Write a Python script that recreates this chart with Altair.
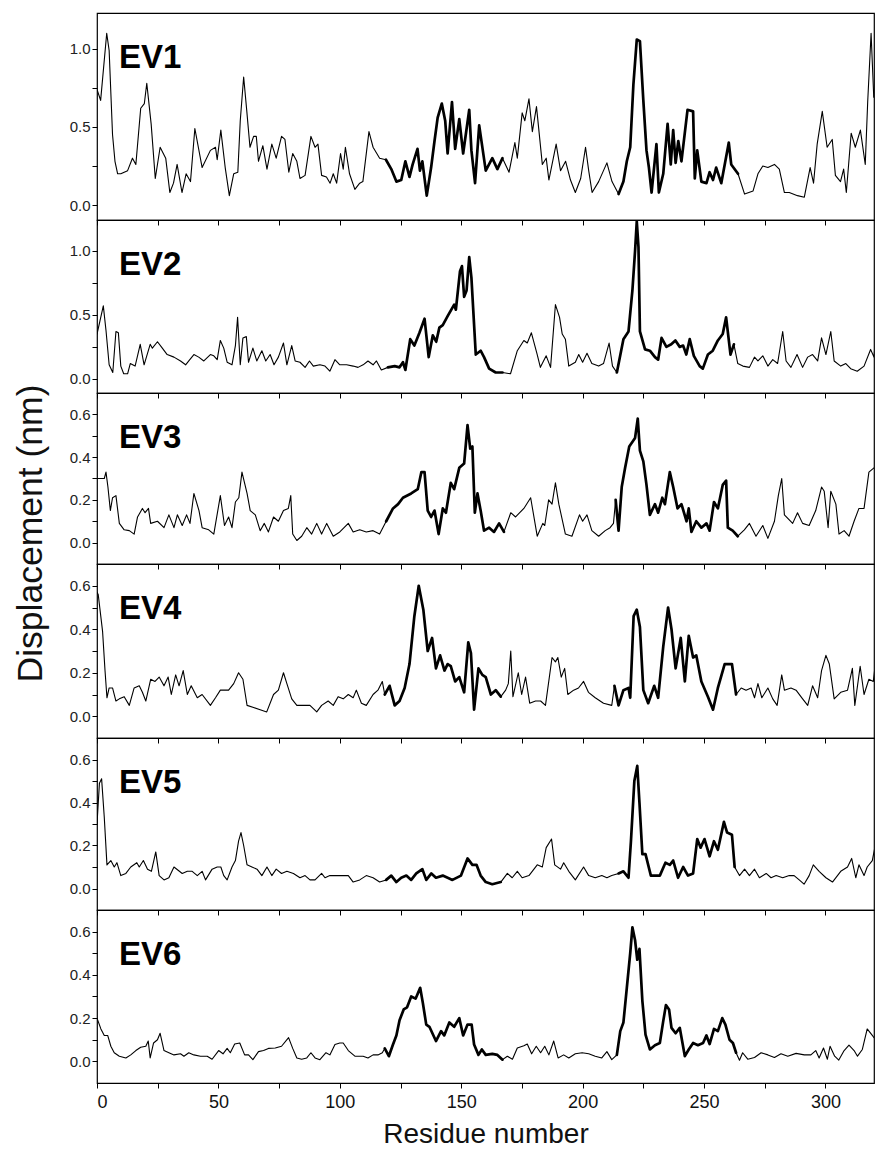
import altair as alt
import pandas as pd

FONT = "Liberation Sans"

EV1 = [(0,0.74),(1.5,0.67),(4,1.10),(5,0.99),(6.4,0.45),(7.4,0.28),(8.5,0.20),(9.8,0.20),(12.6,0.22),(14.6,0.30),
(16,0.26),(18,0.62),(19.5,0.65),(20.5,0.78),(22.3,0.52),(24,0.17),(26,0.37),(28.3,0.30),(30,0.08),(31.5,0.14),
(33,0.26),(35,0.08),(36.7,0.20),(38.5,0.15),(40.3,0.49),(43.3,0.24),(46.7,0.35),(48.8,0.37),(49.5,0.29),(51,0.48),
(52.8,0.24),(54.5,0.06),(56.3,0.20),(58,0.21),(59,0.54),(60.4,0.82),(61.7,0.60),(63,0.37),(64.5,0.44),(65.6,0.44),
(66.5,0.28),(68.3,0.38),(70,0.23),(72,0.39),(73.8,0.30),(76,0.44),(77.4,0.42),(79,0.21),(80.6,0.33),(82.3,0.28),
(83.6,0.17),(85.7,0.19),(88.1,0.44),(89.8,0.37),(91,0.39),(92.5,0.19),(94.5,0.18),(96,0.14),(97.3,0.20),(98.7,0.14),
(100.3,0.33),(101.4,0.23),(102.3,0.37),(104,0.20),(106.2,0.10),(108.2,0.14),(109.5,0.15),(112,0.47),(113.7,0.37),(116.4,0.30),
(119,0.29),(121.2,0.23),(123.3,0.15),(125.3,0.16),(127,0.28),(128.7,0.18),(130,0.26),(132,0.36),(133,0.22),(134,0.28),
(135.8,0.06),(137.6,0.24),(139,0.41),(140.3,0.56),(142,0.65),(143.4,0.54),(144.4,0.33),(146.2,0.66),(147.5,0.36),(149.2,0.55),
(150.8,0.33),(153.3,0.61),(154.2,0.35),(155.7,0.14),(157.4,0.51),(160.1,0.22),(162.8,0.30),(164.9,0.23),(167,0.30),(169.7,0.21),
(172.1,0.40),(173.1,0.30),(175.1,0.59),(176.2,0.54),(177.9,0.68),(179.3,0.47),(181,0.63),(183.4,0.26),(185,0.30),(186.1,0.16),
(189.1,0.39),(190.9,0.22),(193,0.28),(195,0.16),(197,0.08),(199.2,0.17),(201.2,0.37),(202.5,0.22),(203.9,0.08),(206.6,0.15),
(210,0.27),(212.1,0.15),(214.8,0.07),(216.8,0.15),(218.2,0.28),(219.6,0.37),(220.9,0.77),(222.3,1.06),(223.6,1.05),(225,0.67),
(226.3,0.35),(227.3,0.24),(228.4,0.08),(230.4,0.39),(231.4,0.08),(233.2,0.20),(235,0.52),(236.3,0.26),(237.3,0.48),(238.3,0.27),
(239.4,0.41),(240.7,0.28),(243.2,0.61),(245.5,0.60),(246.2,0.17),(247.2,0.35),(248.9,0.15),(251,0.14),(252.3,0.21),(253.7,0.16),
(255,0.24),(257.1,0.14),(260.2,0.40),(261.2,0.26),(264,0.20),(266.7,0.07),(270.2,0.09),(272.2,0.20),(274.2,0.25),(276.3,0.24),
(279,0.26),(281,0.23),(283.1,0.08),(285.1,0.08),(288.5,0.06),(291.3,0.05),(293.7,0.24),(295.1,0.14),(296.6,0.39),(298.7,0.60),
(300.7,0.37),(302.8,0.42),(304.1,0.19),(306.2,0.15),(307.5,0.23),(308.6,0.08),(310.6,0.46),(312.3,0.37),(314.4,0.48),(316.4,0.26),
(317.4,0.66),(318.8,1.10),(319.9,0.69),(320.9,0.72),(321.9,0.63)]

EV2 = [(0,0.35),(1.2,0.45),(2.6,0.57),(3.7,0.38),(5,0.11),(6.5,0.05),(7.8,0.37),(8.8,0.36),(9.8,0.10),(11,0.04),
(12.6,0.04),(13.7,0.12),(15.7,0.10),(17.8,0.27),(19.4,0.11),(21.9,0.27),(22.8,0.24),(24.9,0.29),(26.9,0.24),(28.9,0.19),
(31.7,0.17),(34.4,0.14),(36.5,0.11),(37.8,0.14),(39.9,0.19),(41.9,0.17),(44,0.14),(46.7,0.19),(48.1,0.18),(49.5,0.15),
(50.8,0.30),(52.2,0.24),(53.6,0.13),(55.6,0.11),(57,0.26),(57.9,0.48),(59,0.11),(60.1,0.32),(61.5,0.33),(62.4,0.13),
(64.2,0.24),(65.8,0.14),(67.9,0.22),(69.5,0.14),(71.3,0.19),(72.9,0.11),(74.7,0.17),(76.8,0.28),(78.2,0.11),(80.2,0.26),
(81.6,0.14),(83.6,0.13),(85.7,0.09),(87.5,0.14),(89.1,0.10),(91.8,0.11),(93.9,0.10),(95.9,0.06),(98,0.15),(100,0.11),
(102.8,0.11),(105.5,0.10),(107.5,0.09),(109.6,0.11),(111.6,0.14),(113.7,0.11),(115.1,0.14),(117.1,0.07),(119.8,0.09),(122.6,0.10),
(124.6,0.09),(126,0.13),(127,0.07),(129,0.31),(130.7,0.26),(132.8,0.36),(134.9,0.47),(136.6,0.17),(138.3,0.34),(139.7,0.29),
(141,0.40),(142.4,0.42),(144.4,0.49),(147.1,0.58),(147.8,0.54),(149.5,0.84),(150.3,0.88),(151.2,0.64),(152.2,0.69),(153.3,0.95),
(154.2,0.79),(156,0.19),(158,0.22),(159.4,0.17),(161.5,0.08),(164.2,0.05),(167,0.05),(170.3,0.04),(173.1,0.22),(175.8,0.30),
(177.2,0.28),(178.9,0.36),(181.3,0.19),(182.6,0.09),(185,0.18),(186.8,0.09),(188.8,0.58),(190.5,0.48),(191.6,0.35),(192.9,0.31),
(194.3,0.10),(197,0.13),(198.4,0.19),(200,0.13),(201.8,0.20),(203.8,0.12),(206.6,0.10),(208.6,0.12),(210.9,0.28),(212.3,0.10),
(214.1,0.05),(216.8,0.31),(218.9,0.37),(220.5,0.69),(221.6,1.00),(222.3,1.23),(223,1.03),(223.6,0.37),(225.7,0.23),(227.7,0.22),
(229.8,0.17),(231.1,0.15),(232.5,0.32),(234.5,0.25),(236.5,0.27),(238.2,0.30),(240,0.25),(241.4,0.26),(242.7,0.19),(244.1,0.31),
(245.8,0.18),(248.2,0.10),(249.5,0.08),(251.6,0.19),(253.6,0.22),(255.7,0.30),(257.7,0.35),(259.1,0.48),(260.9,0.19),(262.3,0.27),
(263.9,0.12),(266,0.10),(268.7,0.09),(270.8,0.17),(272.2,0.14),(274.2,0.18),(276.3,0.10),(278.3,0.15),(280.3,0.12),(282.4,0.37),
(283.8,0.14),(285.8,0.09),(288.3,0.19),(290.6,0.09),(292.7,0.17),(294.7,0.19),(296.8,0.14),(298.4,0.32),(300.2,0.19),(302.2,0.37),
(303.6,0.14),(306.3,0.10),(308.4,0.12),(310.4,0.08),(313.1,0.06),(315.9,0.10),(318.6,0.23),(320,0.17),(321.3,0.48)]

EV3 = [(0,0.30),(1.4,0.30),(3,0.30),(3.7,0.33),(4.5,0.26),(5.5,0.15),(6.4,0.21),(7.8,0.22),(9.2,0.09),(11.2,0.06),
(13.3,0.056),(15.3,0.04),(16.7,0.12),(18.7,0.16),(19.8,0.14),(21.2,0.16),(22.1,0.09),(24.9,0.10),(27.6,0.07),(29.6,0.13),
(31.7,0.07),(33.1,0.13),(35.1,0.08),(36.9,0.13),(38.3,0.09),(39.9,0.23),(42,0.15),(43.3,0.07),(46,0.06),(48.1,0.04),
(50.8,0.22),(52.5,0.08),(54.2,0.12),(55.6,0.07),(57,0.19),(58.4,0.21),(59.7,0.33),(61.8,0.23),(63.1,0.15),(65.2,0.13),
(67.2,0.056),(68.9,0.09),(70.6,0.05),(72.7,0.12),(74.7,0.10),(76.8,0.15),(78.8,0.16),(79.8,0.22),(80.6,0.04),(82.3,0.01),
(84.3,0.03),(86.4,0.07),(88.4,0.04),(90.5,0.09),(92.5,0.04),(94.6,0.09),(97.3,0.03),(100,0.05),(103.5,0.09),(105.5,0.05),
(108.2,0.06),(110.9,0.05),(113.7,0.056),(116.4,0.04),(119.1,0.10),(121.9,0.16),(124,0.18),(126,0.21),(129.4,0.23),(132.1,0.25),
(133.6,0.33),(134.9,0.33),(136.2,0.15),(137.6,0.12),(139,0.15),(140.7,0.04),(142.4,0.16),(143.7,0.14),(145.7,0.28),(147.1,0.25),
(149.2,0.35),(151.2,0.37),(152.6,0.55),(153.7,0.44),(154.6,0.45),(155.6,0.14),(156.7,0.23),(158,0.15),(159.4,0.056),(161.5,0.07),
(163.5,0.05),(165.6,0.09),(167.6,0.05),(170.4,0.14),(172.4,0.12),(175.8,0.16),(178.6,0.21),(181.3,0.03),(183.6,0.09),(184.4,0.08),
(186,0.20),(187.4,0.18),(188.8,0.28),(190.2,0.18),(192.9,0.04),(195.6,0.03),(198.7,0.13),(200,0.10),(201.8,0.13),(203.8,0.056),
(206.6,0.03),(209.3,0.056),(211.3,0.07),(212.7,0.09),(213.6,0.20),(214.8,0.056),(216.1,0.26),(217.5,0.35),(219.2,0.45),(221.6,0.49),
(222.7,0.58),(223.6,0.43),(225,0.38),(226.3,0.27),(227.7,0.13),(229.8,0.18),(231.1,0.14),(232.8,0.21),(233.9,0.18),(235.9,0.33),
(237.3,0.26),(239.1,0.16),(240.7,0.18),(242.8,0.10),(243.7,0.16),(244.8,0.05),(246.8,0.10),(248.9,0.07),(251,0.09),(252.3,0.056),
(254.1,0.19),(255.7,0.16),(257.7,0.27),(259.1,0.29),(259.8,0.07),(261.8,0.056),(263.9,0.03),(266.6,0.06),(268.7,0.09),(271.4,0.03),
(274.2,0.08),(276.3,0.02),(279,0.10),(280.6,0.22),(282,0.30),(283.1,0.13),(286.5,0.09),(288.5,0.14),(290.6,0.09),(293.3,0.08),
(296,0.15),(298.4,0.26),(299.5,0.24),(301.1,0.07),(302.2,0.24),(304.3,0.18),(305.6,0.04),(307.7,0.056),(309.7,0.03),(311.8,0.10),
(313.8,0.16),(315.9,0.16),(317.9,0.33),(320,0.35),(321.6,0.35)]

EV4 = [(0,0.57),(0.5,0.56),(2.3,0.39),(3.3,0.21),(4.1,0.085),(5,0.13),(6.4,0.13),(7.8,0.07),(9.2,0.08),(11.2,0.09),
(13.3,0.05),(15.3,0.13),(17.4,0.14),(18.7,0.11),(20.1,0.07),(22.1,0.17),(23.9,0.16),(25.6,0.18),(27.6,0.14),(29.3,0.18),
(30.6,0.10),(32.4,0.19),(33.8,0.14),(35.5,0.21),(37.2,0.10),(38.8,0.14),(41.3,0.085),(43.3,0.10),(46.7,0.05),(48.8,0.085),
(50.8,0.12),(54.2,0.12),(56.3,0.15),(58.3,0.20),(60.1,0.17),(61.8,0.05),(64.5,0.04),(67.2,0.03),(69.9,0.02),(72.7,0.10),
(74.7,0.12),(76.8,0.20),(78.2,0.15),(80.2,0.08),(82.3,0.05),(85,0.05),(87.7,0.05),(90.5,0.02),(92.5,0.05),(95.2,0.07),
(97.3,0.05),(99.3,0.09),(101.4,0.08),(103.5,0.10),(105.5,0.085),(106.8,0.12),(108.9,0.06),(110.9,0.05),(113.7,0.10),(115.7,0.12),
(117.5,0.16),(118.5,0.10),(120.5,0.14),(122.6,0.05),(124.6,0.07),(126.7,0.13),(128.7,0.24),(130.7,0.46),(132.5,0.60),(134.4,0.49),
(136.2,0.30),(138,0.36),(139.6,0.22),(141.3,0.28),(143.1,0.21),(144.4,0.24),(145.7,0.23),(147.5,0.16),(149.2,0.18),(151.2,0.11),
(152.9,0.34),(154,0.29),(155.3,0.03),(157.1,0.22),(158.7,0.19),(160.1,0.18),(162.2,0.10),(164.2,0.12),(166.3,0.09),(168.3,0.12),
(169.4,0.15),(170.4,0.30),(171.3,0.09),(173.5,0.20),(174.9,0.10),(176.5,0.18),(178.2,0.06),(180.6,0.07),(182.7,0.07),(184.7,0.05),
(187.4,0.27),(188.8,0.25),(189.8,0.27),(191.2,0.18),(192.6,0.22),(193.9,0.10),(196.3,0.12),(198.3,0.13),(200.4,0.16),(202.4,0.11),
(205.2,0.085),(208.6,0.06),(212,0.05),(213.1,0.14),(214.8,0.05),(216.8,0.12),(218.9,0.13),(219.6,0.085),(221,0.46),(222.3,0.49),
(223.6,0.41),(225,0.12),(227,0.06),(229.5,0.14),(231.1,0.085),(233.2,0.32),(235.2,0.50),(236.6,0.40),(238.3,0.22),(240.4,0.36),
(242.1,0.16),(243.7,0.37),(245.5,0.27),(246.8,0.28),(248.9,0.16),(251.6,0.09),(253.7,0.03),(255.7,0.13),(258.5,0.24),(261.5,0.24),
(263.2,0.10),(265.3,0.13),(267.3,0.12),(269.4,0.13),(270.8,0.085),(272.2,0.15),(273.8,0.085),(276.3,0.13),(278.3,0.08),(280.1,0.05),
(282,0.19),(283.1,0.12),(285.8,0.13),(287.9,0.12),(290.6,0.08),(292.7,0.05),(294.7,0.14),(296.8,0.085),(298.4,0.21),(300.2,0.28),
(301.6,0.24),(303.6,0.08),(306.3,0.11),(309.1,0.12),(311.1,0.22),(312.1,0.05),(314.3,0.23),(315.9,0.10),(317.9,0.17),(319.7,0.16),
(321.1,0.29)]

EV5 = [(0,0.30),(1,0.49),(1.9,0.51),(3,0.33),(4.1,0.11),(5.7,0.13),(7.1,0.10),(8.2,0.12),(9.8,0.06),(11.9,0.07),
(13.9,0.10),(16.4,0.12),(17.4,0.10),(19.1,0.13),(20.8,0.09),(22.4,0.08),(24.2,0.17),(25.6,0.06),(27.6,0.04),(29.6,0.05),
(31.7,0.10),(35.1,0.07),(37.2,0.08),(39.2,0.08),(41.3,0.06),(43.3,0.08),(44.7,0.04),(47.4,0.09),(49.5,0.10),(51,0.10),
(52.2,0.06),(53.6,0.04),(55.6,0.10),(57,0.13),(58.3,0.22),(59.3,0.26),(60.4,0.20),(61.8,0.11),(63.8,0.10),(65.9,0.09),
(67.9,0.06),(70,0.10),(72,0.06),(73.8,0.09),(76,0.07),(78.2,0.08),(80.9,0.07),(83.6,0.05),(85.7,0.06),(87.7,0.04),
(89.8,0.04),(92.5,0.07),(93.9,0.05),(95.9,0.06),(98.7,0.06),(101.4,0.06),(103.5,0.06),(105.5,0.03),(108.2,0.04),(110.9,0.06),
(113.7,0.05),(116.4,0.03),(119.1,0.04),(121.2,0.06),(123.3,0.03),(125.3,0.05),(127.4,0.06),(129.4,0.04),(131.5,0.07),(134,0.09),
(135.6,0.04),(137.7,0.07),(139.6,0.05),(142.4,0.06),(144.4,0.05),(146.4,0.04),(149.9,0.06),(152.6,0.14),(154.6,0.11),(156.3,0.11),
(158,0.06),(160.1,0.03),(162.8,0.02),(166.3,0.03),(169,0.07),(171,0.05),(173.1,0.08),(175.1,0.05),(177.9,0.06),(181.3,0.11),
(183.4,0.10),(185,0.19),(187.2,0.23),(188.5,0.11),(190.9,0.09),(192.2,0.12),(194.3,0.08),(197,0.04),(200.4,0.10),(202.5,0.06),
(205.2,0.05),(207.9,0.06),(210,0.05),(212,0.06),(214.8,0.07),(216.8,0.08),(218.9,0.05),(219.9,0.22),(221.3,0.50),(222.5,0.57),
(223.4,0.40),(224.6,0.16),(225.9,0.16),(228.1,0.06),(229.8,0.06),(231.8,0.06),(234.1,0.12),(235.9,0.11),(237.3,0.13),(239.3,0.05),
(241.4,0.10),(243.4,0.06),(245.5,0.07),(247.2,0.23),(248.6,0.19),(250.2,0.23),(252.3,0.15),(254.1,0.22),(255.7,0.18),(258.2,0.31),
(259.5,0.26),(261.5,0.25),(262.6,0.10),(264.6,0.06),(266.7,0.09),(268.7,0.06),(270.8,0.09),(272.8,0.05),(275.6,0.07),(277.6,0.05),
(279.7,0.06),(282.4,0.05),(285.1,0.06),(287.1,0.06),(289.2,0.04),(291.2,0.02),(293.3,0.06),(295,0.11),(297.4,0.08),(300.2,0.05),
(302.9,0.03),(306.3,0.08),(309.1,0.10),(310.8,0.14),(312.5,0.05),(313.8,0.11),(315.9,0.06),(317.2,0.10),(319.3,0.13),(320.7,0.21)]

EV6 = [(0,0.20),(1.6,0.15),(3,0.12),(4.4,0.12),(5.7,0.07),(7.1,0.04),(9.2,0.024),(11.9,0.016),(13.9,0.03),(16,0.05),
(18,0.065),(20.1,0.07),(21.1,0.094),(21.9,0.016),(23.3,0.085),(24.9,0.10),(26,0.13),(27.6,0.05),(29.6,0.04),(31.7,0.03),
(34.4,0.035),(35.8,0.024),(37.8,0.04),(39.9,0.03),(42.6,0.024),(45.4,0.024),(47.4,0.01),(50.1,0.05),(51.9,0.035),(53.6,0.06),
(54.9,0.04),(56.7,0.08),(58.8,0.085),(60.8,0.03),(62.4,0.03),(64.2,0.008),(66.5,0.045),(68.6,0.05),(70.6,0.06),(73.4,0.062),
(76,0.07),(78.9,0.11),(80.6,0.06),(82.3,0.016),(84.3,0.01),(86.4,0.016),(88.1,0.04),(89.8,0.016),(91.8,0.008),(94.3,0.04),
(95.9,0.03),(98,0.078),(100,0.085),(101.4,0.085),(103.5,0.05),(106.2,0.024),(109.6,0.024),(111.6,0.016),(113.7,0.03),(115.7,0.03),
(117.5,0.04),(118.5,0.06),(120.2,0.024),(121.9,0.078),(123.3,0.12),(124.6,0.19),(126.3,0.24),(127.7,0.25),(129.4,0.30),(131.2,0.29),
(133.1,0.34),(134.2,0.27),(135.6,0.17),(136.9,0.16),(139.6,0.094),(141.7,0.14),(143,0.12),(145.1,0.18),(147.1,0.16),(149.2,0.20),
(150.8,0.12),(152.6,0.17),(154.3,0.17),(155.3,0.078),(157.1,0.03),(158.5,0.055),(160.1,0.03),(162.8,0.035),(164.9,0.03),(167,0.008),
(169,0.024),(171.1,0.01),(173.1,0.062),(175.8,0.072),(177.2,0.08),(179,0.035),(180.9,0.07),(182.7,0.04),(184.4,0.07),(186.1,0.03),
(188.1,0.094),(189.9,0.016),(192.2,0.03),(194.3,0.016),(197,0.035),(199.8,0.04),(202.5,0.035),(205.2,0.024),(207.9,0.016),(210,0.045),
(212,0.008),(214.1,0.03),(215.5,0.14),(216.8,0.18),(218.2,0.34),(219.6,0.50),(220.5,0.62),(221.6,0.56),(222.5,0.47),(223.4,0.52),
(224.6,0.28),(225.9,0.124),(227.7,0.055),(229.8,0.075),(231.8,0.085),(233.2,0.186),(234.3,0.26),(235.6,0.24),(236.6,0.155),(238.3,0.13),
(240,0.155),(242.1,0.024),(243.7,0.055),(245.5,0.085),(247.5,0.075),(249.6,0.085),(251,0.12),(252.3,0.08),(254.1,0.15),(255.7,0.14),
(257.5,0.20),(258.8,0.17),(260.5,0.10),(261.9,0.085),(263.2,0.04),(264.6,0.005),(265.9,0.04),(268,0.01),(270.8,0.018),(273.5,0.04),
(276.3,0.03),(279,0.018),(281.7,0.035),(284.5,0.024),(287.9,0.037),(291.3,0.03),(294,0.03),(296,0.05),(297.4,0.016),(299.2,0.062),
(300.8,0.01),(301.9,0.07),(303.8,0.024),(305.5,0.006),(307.7,0.05),(309.7,0.075),(311.8,0.05),(313.2,0.024),(315.2,0.055),(317.2,0.15),
(319.3,0.12),(321.1,0.094)]

SERIES = [("EV1", EV1), ("EV2", EV2), ("EV3", EV3), ("EV4", EV4), ("EV5", EV5), ("EV6", EV6)]
Y_DOMAINS = [[-0.096, 1.23], [-0.11, 1.24], [-0.1, 0.7], [-0.1, 0.7], [-0.1, 0.7], [-0.1, 0.7]]
Y_MAJOR = [[0.0, 0.5, 1.0], [0.0, 0.5, 1.0], [0.0, 0.2, 0.4, 0.6], [0.0, 0.2, 0.4, 0.6], [0.0, 0.2, 0.4, 0.6], [0.0, 0.2, 0.4, 0.6]]
Y_MINOR = [[0.25, 0.75], [0.25, 0.75], [0.1, 0.3, 0.5], [0.1, 0.3, 0.5], [0.1, 0.3, 0.5], [0.1, 0.3, 0.5]]
HEIGHTS = [207, 173, 171, 174, 172, 173]
THICK_RANGES = [118, 166, 213, 262]
X_TICKS = list(range(0, 325, 25))
X_DOMAIN = [0, 320]
PLOT_W = 777


def seg_of(r):
    return sum(1 for b in THICK_RANGES if r >= b)


def build(points):
    pts = sorted(points)
    rows = []
    for i, (r, v) in enumerate(pts):
        s = seg_of(r)
        rows.append({"r": r, "v": v, "seg": s})
        if i + 1 < len(pts) and seg_of(pts[i + 1][0]) != s:
            rows.append({"r": pts[i + 1][0], "v": pts[i + 1][1], "seg": s})
    df = pd.DataFrame(rows)
    df["w"] = df["seg"].map(lambda s: 2.7 if s in (1, 3) else 1.1)
    return df


panels = []
for idx, (name, pts) in enumerate(SERIES):
    last = idx == len(SERIES) - 1
    df = build(pts)
    major = Y_MAJOR[idx]
    codes = ",".join(str(int(round(m * 100))) for m in major)
    y_label_expr = f"indexof([{codes}], round(datum.value*100)) >= 0 ? format(datum.value, '.1f') : ''"
    y_kwargs = dict(
        values=sorted(major + Y_MINOR[idx]),
        labelExpr=y_label_expr,
        tickSize=5, tickColor="black", tickWidth=1,
        domain=False, grid=False,
        labelFont=FONT, labelFontSize=15, labelColor="#222", labelPadding=2,
    )
    if idx == 2:
        y_axis = alt.Axis(
            title="Displacement (nm)", titleFont=FONT, titleFontSize=35.5,
            titleFontWeight="normal", titleColor="#111", titleAngle=270,
            titleAlign="center", titleBaseline="bottom", titleX=-49, titleY=140,
            **y_kwargs)
    else:
        y_axis = alt.Axis(title=None, **y_kwargs)

    if last:
        x_axis = alt.Axis(
            values=X_TICKS, labelExpr="datum.value % 50 == 0 ? datum.label : ''",
            tickSize=5, tickColor="black", domain=False, grid=False,
            labelFont=FONT, labelFontSize=18, labelColor="#111", labelPadding=5,
            title="Residue number", titleFont=FONT, titleFontSize=28,
            titleFontWeight="normal", titleColor="#111", titlePadding=9)
    else:
        x_axis = alt.Axis(values=X_TICKS, labels=False, tickSize=5, tickColor="black",
                          domain=False, grid=False, title=None)

    line = alt.Chart(df).mark_line(color="black", strokeJoin="round", strokeCap="round", clip=True).encode(
        x=alt.X("r:Q", scale=alt.Scale(domain=X_DOMAIN, nice=False, zero=False), axis=x_axis),
        y=alt.Y("v:Q", scale=alt.Scale(domain=Y_DOMAINS[idx], nice=False, zero=False), axis=y_axis),
        detail="seg:N",
        strokeWidth=alt.StrokeWidth("w:Q", scale=None, legend=None),
    )
    label = alt.Chart(pd.DataFrame({"t": [name]})).mark_text(
        align="left", baseline="alphabetic", font=FONT, fontSize=33, fontWeight="bold", color="black"
    ).encode(text="t:N", x=alt.value(22), y=alt.value(55))
    panels.append(alt.layer(line, label).properties(width=PLOT_W, height=HEIGHTS[idx]))

chart = alt.vconcat(*panels, spacing=0, bounds="flush").properties(
    padding={"left": 4, "top": 4, "right": 0, "bottom": 0}
).configure_view(stroke="black", strokeWidth=1.2)

chart.save("out.html", embed_options={"renderer": "svg", "actions": False})
